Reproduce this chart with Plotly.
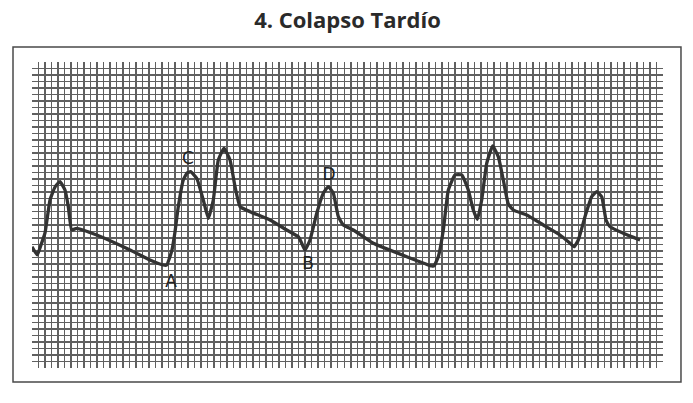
import plotly.graph_objects as go

# Waveform trace, in small-grid-square units (x: time, y: amplitude)
wave_x = [0.0, 0.81, 1.38, 2.0, 2.77, 3.54, 4.30, 5.07, 5.58, 6.10, 6.87, 9.95, 15.07, 18.14,
          20.18, 20.71, 21.21, 21.52, 21.98, 22.49, 23.26, 23.83, 24.37, 25.32, 26.33, 27.10,
          27.87, 28.64, 29.52, 30.44, 31.21, 31.98, 33.51, 36.59, 39.15, 40.94, 41.46, 41.97,
          42.74, 43.77, 44.78, 45.55, 46.32, 47.09, 47.86, 49.40, 52.47, 57.60, 61.45, 61.80,
          62.46, 63.23, 64.00, 65.03, 66.06, 67.07, 67.84, 68.46, 69.13, 69.90, 70.82, 71.68,
          72.45, 73.22, 73.99, 76.05, 78.60, 81.17, 82.71, 83.32, 83.98, 85.01, 86.04, 86.81,
          87.58, 88.24, 88.85, 90.90, 93.47]
wave_y = [18.63, 17.36, 18.89, 20.74, 25.81, 27.80, 28.62, 27.34, 24.79, 21.20, 21.46, 20.43,
          18.13, 16.59, 15.82, 15.82, 17.10, 18.13, 20.89, 24.79, 28.88, 29.95, 30.15, 29.14,
          25.81, 22.99, 25.81, 31.95, 33.75, 31.95, 27.85, 24.79, 24.01, 22.73, 21.20, 20.17,
          19.16, 18.13, 19.66, 23.76, 26.84, 27.85, 26.84, 23.24, 21.97, 21.20, 19.16, 17.10,
          15.67, 15.67, 17.10, 21.20, 27.34, 29.65, 29.65, 27.34, 24.27, 22.84, 25.81, 31.44,
          34.10, 32.46, 28.88, 25.19, 24.27, 23.50, 21.97, 20.43, 19.16, 18.63, 19.66, 23.24,
          26.31, 27.08, 26.31, 22.73, 21.71, 20.69, 19.66]

# Point labels
label_text = ["C", "D", "A", "B"]
label_x = [23.98, 45.66, 21.37, 42.43]
label_y = [31.95, 29.49, 13.06, 15.82]

title_text = "4. Colapso Tardío"

fig = go.Figure()
fig.add_trace(go.Scatter(
    x=wave_x, y=wave_y, mode="lines",
    line=dict(color="#333333", width=3.3, shape="spline", smoothing=0.4),
    hoverinfo="skip", showlegend=False,
))
fig.add_trace(go.Scatter(
    x=label_x, y=label_y, mode="text", text=label_text,
    textfont=dict(family="DejaVu Sans", size=17, color="#222222"),
    hoverinfo="skip", showlegend=False,
))

grid_style = dict(showgrid=True, gridcolor="#606060", gridwidth=1.5, dtick=1, tick0=0,
                  showticklabels=False, ticks="", zeroline=False, showline=False, fixedrange=True)
fig.update_xaxes(range=[0, 97], **grid_style)
fig.update_yaxes(range=[0, 47], **grid_style)

fig.add_shape(type="rect", xref="paper", yref="paper",
              x0=-0.0301, x1=1.0285, y0=-0.0458, y1=1.049,
              line=dict(color="#4a4a4a", width=1.5), fillcolor="rgba(0,0,0,0)", layer="below")

fig.update_layout(
    width=693, height=403,
    margin=dict(l=32, r=30, t=62, b=35),
    paper_bgcolor="#ffffff", plot_bgcolor="#ffffff",
    title=dict(text="<b>" + title_text + "</b>", x=0.5, xref="paper", xanchor="center",
               y=0.95, yref="container", yanchor="middle",
               font=dict(family="Open Sans", size=22, color="#2a2a2a")),
)

fig.write_html("out.html", config={"displayModeBar": False, "staticPlot": True},
               post_script="document.body.style.margin='0';document.body.style.overflow='hidden';")
